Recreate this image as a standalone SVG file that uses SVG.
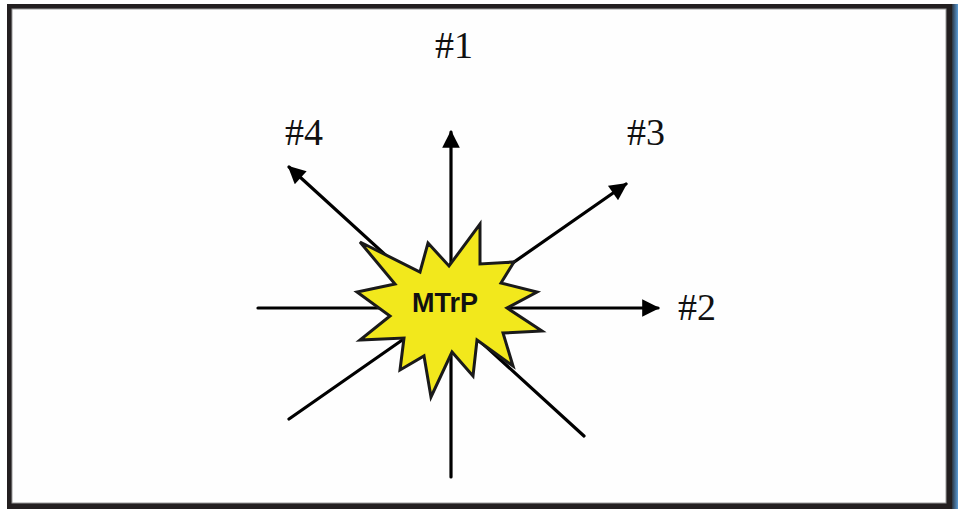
<svg xmlns="http://www.w3.org/2000/svg" width="958" height="509" viewBox="0 0 958 509">
<style>
.ln{stroke:#000;stroke-width:3.2;fill:none;stroke-linecap:round}
.lbl{font-family:"Liberation Serif","Times New Roman",serif;font-size:38px;fill:#111}
.star{fill:#f2e81c;stroke:#1a1a1a;stroke-width:3;stroke-linejoin:miter}
.mt{font-family:"Liberation Sans",Arial,sans-serif;font-weight:bold;font-size:27px;fill:#111}
</style>
<defs>
<marker id="ah" viewBox="0 0 10 10" refX="9" refY="5" markerWidth="6.5" markerHeight="5.5" markerUnits="strokeWidth" orient="auto">
<path d="M0,0 L10,5 L0,10 z" fill="#000"/>
</marker>
<linearGradient id="edge" x1="0" y1="0" x2="1" y2="0">
<stop offset="0" stop-color="#2a3440"/>
<stop offset="1" stop-color="#5b9bd5"/>
</linearGradient>
</defs>
<g id="frame">
<rect x="0" y="0" width="958" height="509" fill="#ffffff"/>
<rect x="7" y="4" width="951" height="505" fill="#231f20"/>
<rect x="952" y="4" width="6" height="505" fill="url(#edge)"/>
<rect x="12" y="9" width="934" height="494" fill="#fefefe" stroke="#9a9a9a" stroke-width="1"/>
</g>
<g id="connectors">
<line class="ln" x1="451" y1="477" x2="451" y2="132" marker-end="url(#ah)"/>
<line class="ln" x1="258" y1="308" x2="658" y2="308" marker-end="url(#ah)"/>
<line class="ln" x1="289" y1="419" x2="626" y2="184" marker-end="url(#ah)"/>
<line class="ln" x1="584" y1="436" x2="289" y2="167" marker-end="url(#ah)"/>
</g>
<g id="mtrp">
<polygon class="star" points="360,242 420,272 428,243 449,266 480,224 480,264 514,262 501,283 537,292 507,308 542,331 503,333 513,366 477,340 473,376 452,352 431,397 424,356 400,370 404,338 360,340 390,316 357,292 395,284"/>
<text class="mt" x="445" y="312" text-anchor="middle">MTrP</text>
</g>
<g id="label1"><text class="lbl" x="454" y="58" text-anchor="middle">#1</text></g>
<g id="label2"><text class="lbl" x="697" y="320" text-anchor="middle">#2</text></g>
<g id="label3"><text class="lbl" x="646" y="145" text-anchor="middle">#3</text></g>
<g id="label4"><text class="lbl" x="304" y="145" text-anchor="middle">#4</text></g>
</svg>
